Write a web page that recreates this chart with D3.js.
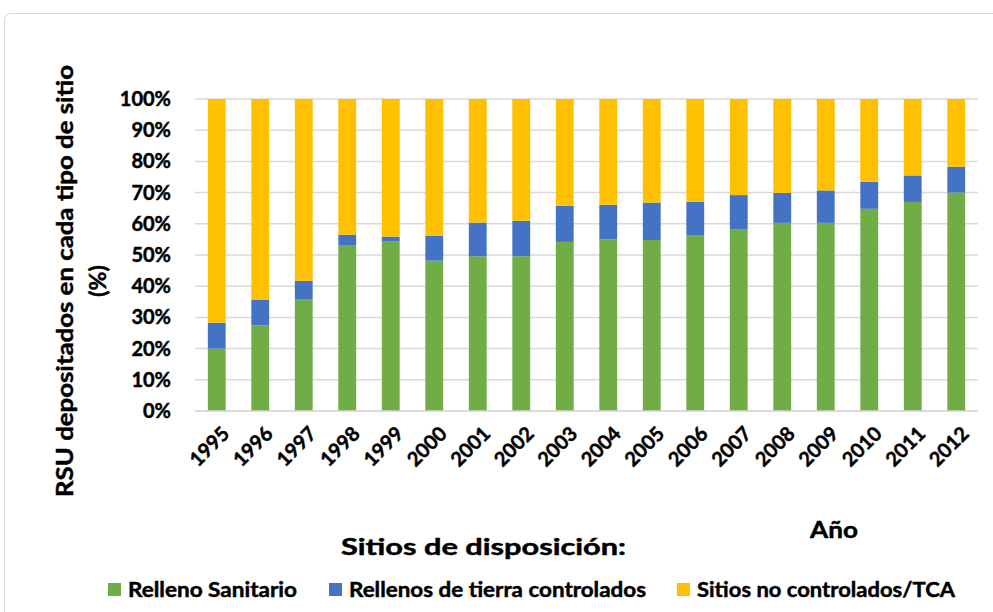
<!DOCTYPE html>
<html>
<head>
<meta charset="utf-8">
<script src="https://cdn.jsdelivr.net/npm/d3@7"></script>
<style>
  body { margin:0; background:#fff; }
  text { font-family: Lato, "Open Sans", sans-serif; font-weight:700; fill:#000; stroke:#000; stroke-width:0.45px; }
</style>
</head>
<body>
<div id="chart"></div>
<script>
//DATA
const years = ["1995","1996","1997","1998","1999","2000","2001","2002","2003","2004","2005","2006","2007","2008","2009","2010","2011","2012"];
const rellenoSanitario = [20.0,27.5,35.9,53.2,54.3,48.2,49.6,49.6,54.2,55.0,54.8,56.4,58.3,60.3,60.3,64.8,67.0,70.0];
const rellenosControlados = [8.3,8.2,5.8,3.3,1.6,8.0,10.8,11.4,11.6,11.1,12.0,10.7,10.9,9.6,10.4,8.7,8.5,8.3];
const sitiosNoControlados = rellenoSanitario.map((g,i) => 100 - g - rellenosControlados[i]);
const yTicks = [0,10,20,30,40,50,60,70,80,90,100];
const seriesNames = ["Relleno Sanitario","Rellenos de tierra controlados","Sitios no controlados/TCA"];
const colors = ["#70ad47","#4472c4","#ffc000"];

//LAYOUT
const W = 993, H = 612;
const plot = {left:195, right:978, top:99, bottom:411};

const svg = d3.select("#chart").append("svg").attr("width", W).attr("height", H);

//chart border
svg.append("rect").attr("x",4.5).attr("y",13.5).attr("width",W+20).attr("height",H+20)
  .attr("rx",6).attr("fill","#fff").attr("stroke","#d9d9d9").attr("stroke-width",1);

const x = d3.scaleBand().domain(years).range([plot.left, plot.right]).paddingInner(0.59).paddingOuter(0.295);
const y = d3.scaleLinear().domain([0,100]).range([plot.bottom, plot.top]);

//gridlines
svg.append("g").selectAll("line").data(yTicks).join("line")
  .attr("x1", plot.left).attr("x2", plot.right)
  .attr("y1", d => y(d)).attr("y2", d => y(d))
  .attr("stroke","#d9d9d9").attr("stroke-width",1.5);

//stacked bars
const table = years.map((yr,i) => ({year:yr, s0:rellenoSanitario[i], s1:rellenosControlados[i], s2:sitiosNoControlados[i]}));
const stack = d3.stack().keys(["s0","s1","s2"])(table);

svg.append("g").selectAll("g").data(stack).join("g")
  .attr("fill", (d,i) => colors[i])
  .selectAll("rect").data(d => d).join("rect")
    .attr("x", d => x(d.data.year))
    .attr("width", x.bandwidth())
    .attr("y", d => y(d[1]))
    .attr("height", d => y(d[0]) - y(d[1]));

//baseline
svg.append("line").attr("x1",plot.left).attr("x2",plot.right)
  .attr("y1",y(0)).attr("y2",y(0)).attr("stroke","#d9d9d9").attr("stroke-width",1.5);

//y axis labels
const yAxis = svg.append("g").attr("transform",`translate(${plot.left},0)`)
  .call(d3.axisLeft(y).tickValues(yTicks).tickFormat(d => d + "%").tickSize(0).tickPadding(24));
yAxis.select(".domain").remove();
yAxis.selectAll("text").style("font-size","20px").style("font-family","Lato, sans-serif").attr("fill","#000");

//x axis labels
const xAxis = svg.append("g").attr("transform",`translate(0,${plot.bottom})`)
  .call(d3.axisBottom(x).tickSize(0).tickPadding(0));
xAxis.select(".domain").remove();
xAxis.selectAll("text")
  .style("font-size","20px").style("font-family","Lato, sans-serif").attr("fill","#000")
  .attr("text-anchor","end").attr("dy","0.35em").attr("y",0)
  .attr("transform","translate(9,19) rotate(-45)");

//y title
const yTitle = svg.append("text").attr("transform","translate(65,281) rotate(-90)")
  .attr("text-anchor","middle").style("font-size","23px");
yTitle.append("tspan").attr("x",0).attr("dy","0.35em")
  .attr("textLength",432).attr("lengthAdjust","spacingAndGlyphs")
  .text("RSU depositados en cada tipo de sitio");
yTitle.append("tspan").attr("x",0).attr("dy","1.45em").text("(%)");

//x title & legend header
svg.append("text").attr("x",834).attr("y",530).attr("dy","0.35em")
  .attr("text-anchor","middle").style("font-size","23px")
  .attr("textLength",48).attr("lengthAdjust","spacingAndGlyphs").text("Año");
svg.append("text").attr("x",341).attr("y",547).attr("dy","0.35em")
  .style("font-size","22px")
  .attr("textLength",285).attr("lengthAdjust","spacingAndGlyphs").text("Sitios de disposición:");

//legend
const legendX = [108, 329, 677];
const legendW = [169, 297, 258];
const legend = svg.append("g").selectAll("g").data(seriesNames).join("g")
  .attr("transform", (d,i) => `translate(${legendX[i]},583)`);
legend.append("rect").attr("width",13).attr("height",13).attr("fill",(d,i) => colors[i]);
legend.append("text").attr("x",20).attr("y",7).attr("dy","0.35em")
  .style("font-size","20px")
  .attr("textLength",(d,i) => legendW[i]).attr("lengthAdjust","spacingAndGlyphs")
  .text(d => d);
</script>
</body>
</html>
